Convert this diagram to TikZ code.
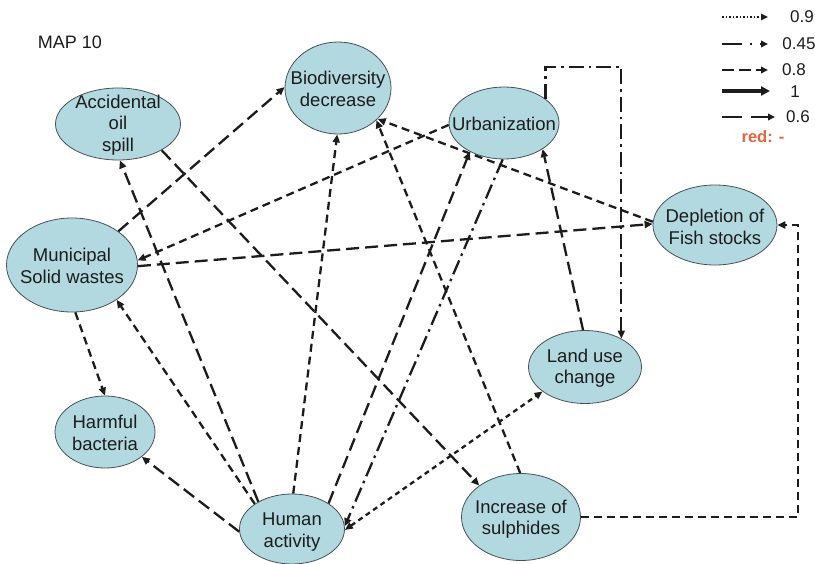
\documentclass[tikz,border=0pt]{standalone}
\usepackage{fontspec}
\setmainfont{Liberation Sans}
\usetikzlibrary{shapes.geometric,arrows.meta}
\definecolor{nodefill}{RGB}{178,217,224}
\definecolor{nodeline}{RGB}{70,82,88}
\definecolor{ink}{RGB}{28,28,28}
\definecolor{redlab}{RGB}{232,100,60}
\tikzset{
  concept/.style={ellipse, draw=nodeline, line width=0.8pt, fill=nodefill, inner sep=0pt},
  txt/.style={align=center, text=ink, inner sep=0pt, font=\fontsize{18.5}{21.5}\selectfont},
  tip/.style={-{Triangle[length=8pt,width=7pt]}},
  link/.style={draw=ink, line width=2.3pt, tip},
  w06/.style={link, dash pattern=on 13pt off 6pt},
  w08/.style={link, dash pattern=on 8pt off 5pt},
  w045/.style={link, dash pattern=on 15pt off 5pt on 2.5pt off 5pt},
  w09/.style={link, dash pattern=on 5pt off 4pt},
  leg/.style={draw=ink, line width=1.8pt, -{Triangle[length=7pt,width=6.5pt]}},
  legtxt/.style={text=ink, inner sep=0pt, font=\fontsize{17}{18}\selectfont}
}
\begin{document}
\begin{tikzpicture}[x=1pt,y=-1pt]
\useasboundingbox (0,0) rectangle (815,563);
\fill[white] (0,0) rectangle (815,563);

\node[txt, font=\fontsize{18}{20}\selectfont] (title) at (70,42) {MAP 10};

% concept ellipses
\node[concept, minimum width=125pt, minimum height=72pt] (acc) at (118,124) {};
\node[txt] (acct) at (118,125) {Accidental\\oil\\spill};
\node[concept, minimum width=106pt, minimum height=92pt] (bio) at (338,88) {};
\node[txt] (biot) at (338,89) {Biodiversity\\decrease};
\node[concept, minimum width=110pt, minimum height=72pt] (urb) at (504,123) {};
\node[txt] (urbt) at (504,124) {Urbanization};
\node[concept, minimum width=124pt, minimum height=80pt] (fish) at (715,225) {};
\node[txt] (fisht) at (715,227) {Depletion of\\Fish stocks};
\node[concept, minimum width=131pt, minimum height=94pt] (mun) at (72,265) {};
\node[txt] (munt) at (72,266) {Municipal\\Solid wastes};
\node[concept, minimum width=100pt, minimum height=72pt] (harm) at (105,432) {};
\node[txt] (harmt) at (105,433) {Harmful\\bacteria};
\node[concept, minimum width=105pt, minimum height=70pt] (hum) at (292,529) {};
\node[txt] (humt) at (292,532) {Human\\activity};
\node[concept, minimum width=113pt, minimum height=73pt] (land) at (585,367) {};
\node[txt] (landt) at (585,368) {Land use\\change};
\node[concept, minimum width=119pt, minimum height=87pt] (sul) at (521,517) {};
\node[txt] (sult) at (521,519) {Increase of\\sulphides};

\coordinate (ucorner) at (600,67);
\coordinate (rcorner) at (798,400);

% connectors
\draw[w08] (mun.-86) -- (harm.90);
\draw[w06] (mun.36) -- (bio.179);
\draw[w06] (acc.-31) -- (sul.143);
\draw[w06] (hum.141) -- (acc.-87);
\draw[w08] (hum.146) -- (mun.-38);
\draw[w06] (hum.183) -- (harm.-34);
\draw[w08] (hum.88) -- (bio.-91);
\draw[w06] (hum.35) -- (urb.-140);
\draw[w045] (urb.-92) -- (hum.3);
\draw[w09, {Triangle[length=8pt,width=7pt]}-{Triangle[length=8pt,width=7pt]}] (hum.-1) -- (land.-150);
\draw[w08] (sul.91) -- (bio.-40);
\draw[w08] (fish.177) -- (bio.-38);
\draw[w08] (urb.182) -- (mun.4);
\draw[w06] (mun.-1) -- (fish.179);
\draw[w06] (land.93) -- (urb.-34);
\draw[w045] (urb.30) |- (ucorner) -| (land.38);
\draw[w08] (sul.0) -| (rcorner) |- (fish.0);

% legend
\coordinate (l1a) at (722,17);  \coordinate (l1b) at (768,17);
\coordinate (l2a) at (722,44);  \coordinate (l2b) at (768,44);
\coordinate (l3a) at (722,70);  \coordinate (l3b) at (768,70);
\coordinate (l4a) at (722,91);  \coordinate (l4b) at (770,91);
\coordinate (l5a) at (722,117); \coordinate (l5b) at (775,117);
\draw[leg, line width=1.4pt, dash pattern=on 1.5pt off 2pt] (l1a) -- (l1b);
\draw[leg, dash pattern=on 20pt off 8pt on 2pt off 8pt] (l2a) -- (l2b);
\draw[leg, dash pattern=on 12pt off 5pt] (l3a) -- (l3b);
\draw[leg, line width=3.8pt, -{Triangle[length=9pt,width=9pt]}] (l4a) -- (l4b);
\draw[leg, dash pattern=on 20pt off 9pt] (l5a) -- (l5b);
\node[legtxt] (v1) at (802,17) {0.9};
\node[legtxt] (v2) at (799,44) {0.45};
\node[legtxt] (v3) at (794,70) {0.8};
\node[legtxt] (v4) at (795,92) {1};
\node[legtxt] (v5) at (798,117) {0.6};
\node[text=redlab, inner sep=0pt, font=\bfseries\fontsize{16.5}{18}\selectfont] (red) at (763,137) {red: -};
\end{tikzpicture}
\end{document}
